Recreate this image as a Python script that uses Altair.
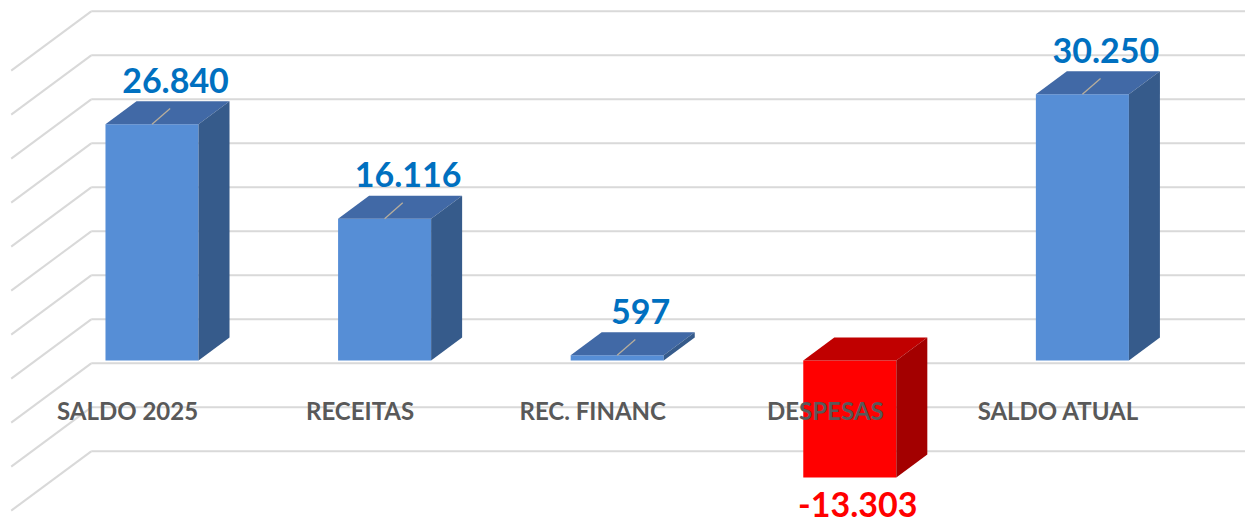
import altair as alt
import pandas as pd

# ---------------- data ----------------
categories = ["SALDO 2025", "RECEITAS", "REC. FINANC", "DESPESAS", "SALDO ATUAL"]
values = [26840, 16116, 597, -13303, 30250]
value_labels = ["26.840", "16.116", "597", "-13.303", "30.250"]
grid_values = [-15000, -10000, -5000, 0, 5000, 10000, 15000, 20000, 25000, 30000, 35000]

# ---------------- layout / projection constants ----------------
W, H = 1245, 526
AX = 0.1333      # category units moved per unit of depth
AY = 2614        # value units moved per unit of depth
HALF = 0.2       # half bar width (category units)
Z_BACK = 1.79    # back wall depth
Z_FRONT = -0.79  # front edge of the side wall
X_DOMAIN = [-0.6535, 4.6991]
Y_DOMAIN = [-18807, 40966]
LABEL_V = -3900  # value level of category labels (front plane)

BLUE_FRONT, BLUE_TOP, BLUE_SIDE = "#568ED6", "#4169A6", "#365B8B"
RED_FRONT, RED_TOP, RED_SIDE = "#FF0000", "#C00000", "#A30000"
GRID = "#D9D9D9"

xs = alt.Scale(domain=X_DOMAIN, nice=False, zero=False)
ys = alt.Scale(domain=Y_DOMAIN, nice=False, zero=False)

# ---------------- derived tables ----------------
front_rows, top_rows, side_rows, lead_rows, lab_rows = [], [], [], [], []
for i, (c, v, l) in enumerate(zip(categories, values, value_labels)):
    lo, hi = min(v, 0), max(v, 0)
    front_rows.append(dict(cat=c, value=v, x1=i - HALF, x2=i + HALF, y1=lo, y2=hi))
    top_rows.append(dict(cat=c, value=v, yy=hi, xa=i - HALF, xb=i + HALF))
    top_rows.append(dict(cat=c, value=v, yy=hi + AY, xa=i - HALF + AX, xb=i + HALF + AX))
    side_rows.append(dict(cat=c, value=v, xx=i + HALF, ya=lo, yb=hi))
    side_rows.append(dict(cat=c, value=v, xx=i + HALF + AX, ya=lo + AY, yb=hi + AY))
    if v > 0:
        lead_rows.append(dict(cat=c, x1=i, y1=v, x2=i + 0.078, y2=v + 1800))
    if v >= 0:
        lab_rows.append(dict(cat=c, value=v, label=l, lx=i + 0.5 * AX, ly=v + 0.5 * AY))
    else:
        lab_rows.append(dict(cat=c, value=v, label=l, lx=i, ly=v))

front = pd.DataFrame(front_rows)
top = pd.DataFrame(top_rows)
side = pd.DataFrame(side_rows)
lead = pd.DataFrame(lead_rows)
labs = pd.DataFrame(lab_rows)

grid = pd.DataFrame({
    "gx1": [-0.5 + Z_BACK * AX] * len(grid_values),
    "gx2": [X_DOMAIN[1]] * len(grid_values),
    "gy": [g + Z_BACK * AY for g in grid_values],
    "dx2": [-0.5 + Z_FRONT * AX] * len(grid_values),
    "dy2": [g + Z_FRONT * AY for g in grid_values],
})

cats = pd.DataFrame({
    "cat": categories,
    "cx": [i + Z_FRONT * AX for i in range(len(categories))],
    "cy": [LABEL_V + Z_FRONT * AY] * len(categories),
})

neg = "datum.value < 0"

# ---------------- layers ----------------
hgrid = alt.Chart(grid).mark_rule(color=GRID, strokeWidth=2).encode(
    x=alt.X("gx1:Q", scale=xs, axis=None), x2="gx2:Q",
    y=alt.Y("gy:Q", scale=ys, axis=None))

dgrid = alt.Chart(grid).mark_rule(color=GRID, strokeWidth=2).encode(
    x=alt.X("gx1:Q", scale=xs, axis=None), x2="dx2:Q",
    y=alt.Y("gy:Q", scale=ys, axis=None), y2="dy2:Q")

front_l = alt.Chart(front).mark_rect().encode(
    x=alt.X("x1:Q", scale=xs, axis=None), x2="x2:Q",
    y=alt.Y("y1:Q", scale=ys, axis=None), y2="y2:Q",
    color=alt.condition(neg, alt.value(RED_FRONT), alt.value(BLUE_FRONT)))

top_l = alt.Chart(top).mark_area(orient="horizontal").encode(
    y=alt.Y("yy:Q", scale=ys, axis=None),
    x=alt.X("xa:Q", scale=xs, axis=None, stack=False), x2="xb:Q",
    detail="cat:N",
    color=alt.condition(neg, alt.value(RED_TOP), alt.value(BLUE_TOP)))

side_l = alt.Chart(side).mark_area(orient="vertical").encode(
    x=alt.X("xx:Q", scale=xs, axis=None),
    y=alt.Y("ya:Q", scale=ys, axis=None, stack=False), y2="yb:Q",
    detail="cat:N",
    color=alt.condition(neg, alt.value(RED_SIDE), alt.value(BLUE_SIDE)))

lead_l = alt.Chart(lead).mark_rule(color="#B8AE9C", strokeWidth=1.3).encode(
    x=alt.X("x1:Q", scale=xs, axis=None), x2="x2:Q",
    y=alt.Y("y1:Q", scale=ys, axis=None), y2="y2:Q")

cat_l = alt.Chart(cats).mark_text(
    font="Lato", fontWeight="bold", fontSize=24, color="#595959",
    align="center", baseline="middle").encode(
    x=alt.X("cx:Q", scale=xs, axis=None),
    y=alt.Y("cy:Q", scale=ys, axis=None),
    text="cat:N")

pos_lab = alt.Chart(labs).transform_filter("datum.value >= 0").mark_text(
    font="Lato", fontWeight="bold", fontSize=34, color="#0070C0",
    align="center", baseline="middle", dx=8, dy=-30).encode(
    x=alt.X("lx:Q", scale=xs, axis=None),
    y=alt.Y("ly:Q", scale=ys, axis=None),
    text="label:N")

neg_lab = alt.Chart(labs).transform_filter("datum.value < 0").mark_text(
    font="Lato", fontWeight="bold", fontSize=34, color="#FF0000",
    align="center", baseline="middle", dx=8, dy=29).encode(
    x=alt.X("lx:Q", scale=xs, axis=None),
    y=alt.Y("ly:Q", scale=ys, axis=None),
    text="label:N")

chart = alt.layer(
    hgrid, dgrid, front_l, top_l, side_l, lead_l, cat_l, pos_lab, neg_lab
).properties(
    width=W, height=H, padding=0,
    autosize=alt.AutoSizeParams(type="none"),
    background="white",
).configure_view(stroke=None)

chart.save("out.html", embed_options={"renderer": "svg", "actions": False})
